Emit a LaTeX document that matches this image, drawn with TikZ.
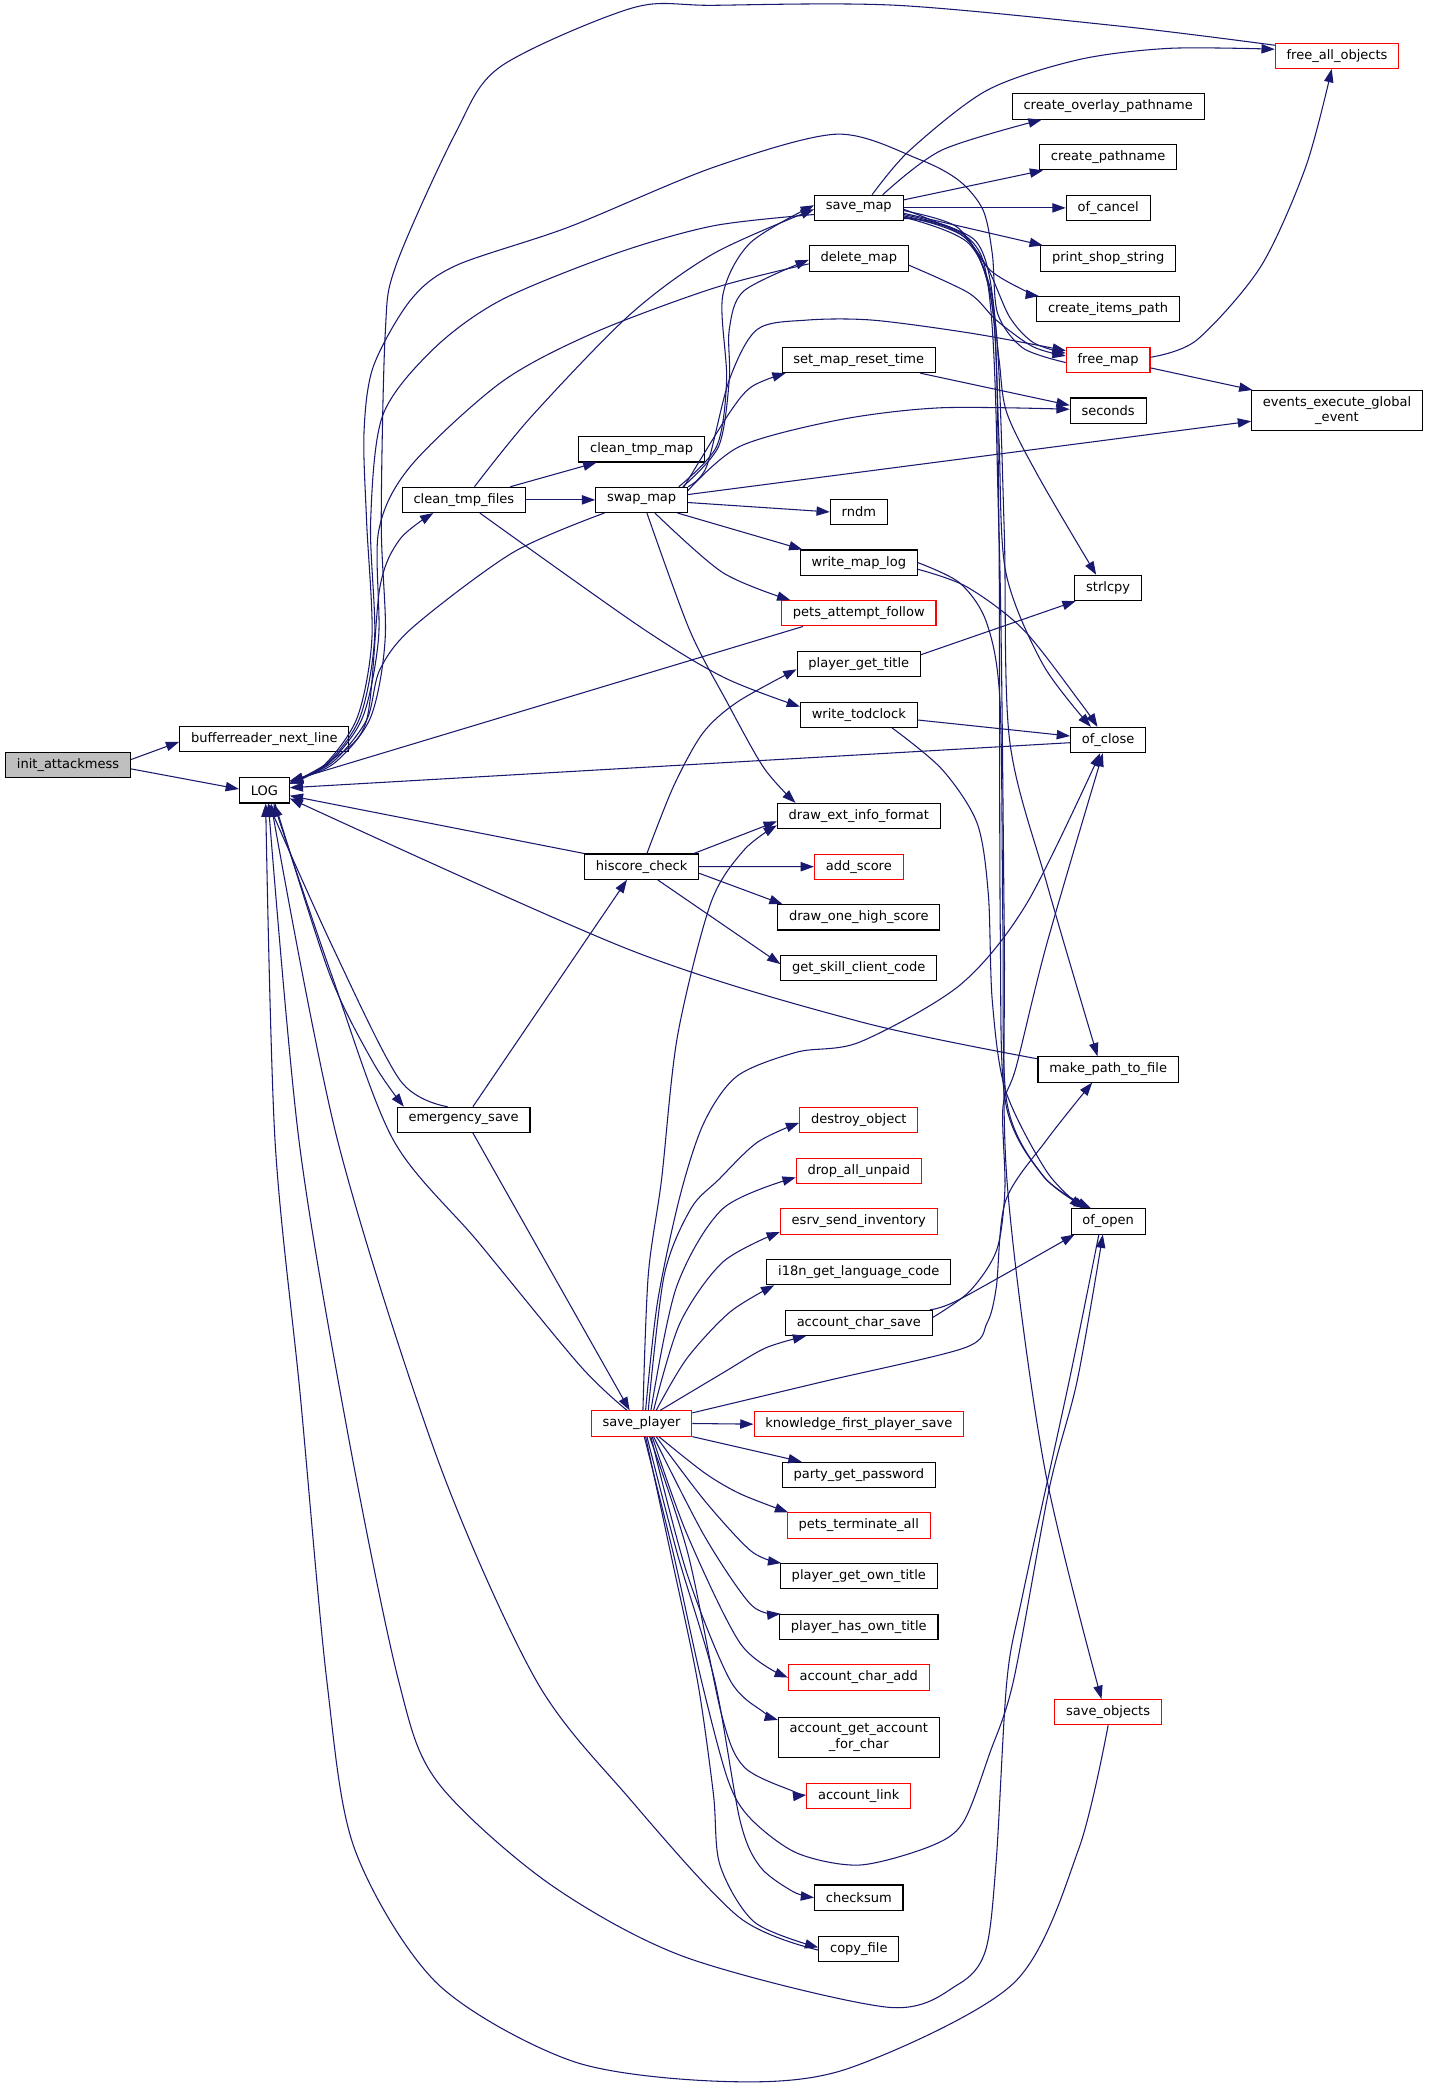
\documentclass[tikz,border=0pt]{standalone}
\usepackage{fontspec}
\setmainfont{DejaVu Sans}
\usepackage{tikz}
\usetikzlibrary{arrows.meta}
\definecolor{edgeblue}{RGB}{25,25,112}
\definecolor{boxred}{RGB}{255,0,0}
\definecolor{boxgray}{RGB}{191,191,191}

\begin{document}
\begin{tikzpicture}[x=1pt, y=-1pt,
	fn/.style={draw=black, line width=0.8pt, rectangle, inner xsep=8.5pt, inner ysep=4.5pt, minimum height=19pt, align=center, font=\fontsize{9.8}{11.5}\selectfont},
	fnred/.style={fn, draw=boxred},
	edge/.style={draw=edgeblue, line width=0.8pt, -{Triangle[length=10pt,width=7pt]}}]
	\path[use as bounding box, fill=white] (0,0) rectangle (1075,1572.6);
		\node[fn, fill=boxgray] (ia) at (51.2,575.8) {init\_attackmess};
		\node[fn] (brnl) at (199,556.5) {bufferreader\_next\_line};
		\node[fn] (log) at (199,595) {LOG};
		\node[fn] (ctf) at (349.2,376.3) {clean\_tmp\_files};
		\node[fn] (es) at (349,843) {emergency\_save};
		\node[fn] (ctm) at (483,338.3) {clean\_tmp\_map};
		\node[fn] (swap) at (483,376.3) {swap\_map};
		\node[fn] (hsc) at (483,652.4) {hiscore\_check};
		\node[fnred] (sp) at (483,1071.6) {save\_player};
		\node[fn] (smap) at (646.5,156.5) {save\_map};
		\node[fn] (dmap) at (646.5,194.65) {delete\_map};
		\node[fn] (smrt) at (646.5,270.95) {set\_map\_reset\_time};
		\node[fn] (rndm) at (646.5,385.4) {rndm};
		\node[fn] (wml) at (646.5,423.55) {write\_map\_log};
		\node[fnred] (paf) at (646.5,461.7) {pets\_attempt\_follow};
		\node[fn] (pgt) at (646.5,499.85) {player\_get\_title};
		\node[fn] (wtc) at (646.5,538) {write\_todclock};
		\node[fn] (deif) at (646.5,614.3) {draw\_ext\_info\_format};
		\node[fnred] (adds) at (646.5,652.45) {add\_score};
		\node[fn] (dohs) at (646.5,690.6) {draw\_one\_high\_score};
		\node[fn] (gscc) at (646.5,728.75) {get\_skill\_client\_code};
		\node[fnred] (dobj) at (646.5,843.2) {destroy\_object};
		\node[fnred] (dau) at (646.5,881.35) {drop\_all\_unpaid};
		\node[fnred] (esi) at (646.5,919.5) {esrv\_send\_inventory};
		\node[fn] (i18n) at (646.5,957.65) {i18n\_get\_language\_code};
		\node[fn] (acs) at (646.5,995.8) {account\_char\_save};
		\node[fnred] (kfps) at (646.5,1072.1) {knowledge\_first\_player\_save};
		\node[fn] (pgp) at (646.5,1110.25) {party\_get\_password};
		\node[fnred] (pta) at (646.5,1148.4) {pets\_terminate\_all};
		\node[fn] (pgot) at (646.5,1186.55) {player\_get\_own\_title};
		\node[fn] (phot) at (646.5,1224.7) {player\_has\_own\_title};
		\node[fnred] (aca) at (646.5,1262.85) {account\_char\_add};
		\node[fn] (agafc) at (646.5,1308) {account\_get\_account\\\_for\_char};
		\node[fnred] (alink) at (646.5,1352.2) {account\_link};
		\node[fn] (csum) at (646.5,1428.5) {checksum};
		\node[fn] (cpf) at (646.5,1467) {copy\_file};
		\node[fn] (cop) at (834.2,80.2) {create\_overlay\_pathname};
		\node[fn] (cpn) at (834.2,118.35) {create\_pathname};
		\node[fn] (ofc) at (834.2,156.5) {of\_cancel};
		\node[fn] (pss) at (834.2,194.65) {print\_shop\_string};
		\node[fn] (cip) at (834.2,232.8) {create\_items\_path};
		\node[fnred] (fmap) at (834.2,270.95) {free\_map};
		\node[fn] (secs) at (834.2,309.1) {seconds};
		\node[fn] (slc) at (834.2,442.6) {strlcpy};
		\node[fn] (oclose) at (834.2,557.1) {of\_close};
		\node[fn] (mptf) at (834.2,805.05) {make\_path\_to\_file};
		\node[fn] (oopen) at (834.2,919.5) {of\_open};
		\node[fnred] (sobj) at (834.2,1288.9) {save\_objects};
		\node[fnred] (fao) at (1006.5,42.05) {free\_all\_objects};
		\node[fn] (eege) at (1006.5,309.1) {events\_execute\_global\\\_event};

		\draw[edge] ([yshift=4pt]ia.east) -- ([yshift=-2pt]brnl.west);
		\draw[edge] ([yshift=-3pt]ia.east) -- ([yshift=1pt]log.west);
		\draw[edge] plot[smooth] coordinates {([yshift=5pt]log.east) (250,572) (276,542) (286,442) (301,406) ([xshift=-23pt]ctf.south)};
		\draw[edge] plot[smooth] coordinates {([xshift=8pt]log.south) (248,733) (281,800) ([xshift=-45pt]es.north)};
		\draw[edge] plot[smooth] coordinates {([xshift=-12pt]es.north) (301,813) (250,712) ([xshift=3pt]log.south)};
		\draw[edge] ([xshift=7pt]es.north) -- ([xshift=-11pt]hsc.south);
		\draw[edge] ([xshift=7pt]es.south) -- ([xshift=-9pt]sp.north);
		\draw[edge] ([xshift=35pt]ctf.north) -- ([xshift=-34pt]ctm.south);
		\draw[edge] (ctf.east) -- (swap.west);
		\draw[edge] plot[smooth] coordinates {([xshift=8pt]ctf.north) (400,313.6) (474,237) (537,191) ([yshift=-1pt]smap.west)};
		\draw[edge] plot[smooth] coordinates {([xshift=12pt]ctf.south) (481.8,471.8) (545,510) ([yshift=6pt]wtc.west)};

		\draw[edge] plot[smooth] coordinates {([xshift=28pt]swap.north) (539.5,336) (547,286) (544,223) (564.6,183) ([yshift=2pt]smap.west)};
		\draw[edge] plot[smooth] coordinates {([xshift=31pt]swap.north) (541,336) (549,286) (549,248) (560,219) ([yshift=-1pt]dmap.west)};
		\draw[edge] plot[smooth] coordinates {(swap.north east) (532,351) (549,286) (570,248) (607,241) (657,241) (732,251) ([yshift=7pt]fmap.west)};
		\draw[edge] plot[smooth] coordinates {([xshift=-3pt]swap.north east) (549,311) (566,291) ([xshift=3pt]smrt.south west)};
		\draw[edge] plot[smooth] coordinates {([yshift=7pt]swap.east) (557,336) (632,316) (708,307) ([yshift=1pt]secs.west)};
		\draw[edge] ([yshift=4pt]swap.east) -- ([yshift=-8pt]eege.west);
		\draw[edge] ([yshift=-2pt]swap.east) -- (rndm.west);
		\draw[edge] ([xshift=27pt]swap.south) -- ([xshift=2pt]wml.north west);
		\draw[edge] plot[smooth] coordinates {([xshift=10pt]swap.south) (544,431) ([xshift=7pt]paf.north west)};
		\draw[edge] plot[smooth] coordinates {([xshift=4pt]swap.south) (519,474) (547,528) (575,578) ([xshift=14pt]deif.north west)};
		\draw[edge] plot[smooth] coordinates {([xshift=-28pt]swap.south) (386,416) (311,472) (286,504) (276,542) (250,574) ([yshift=6pt]log.east)};

		\draw[edge] plot[smooth] coordinates {([yshift=-5pt]smap.west) (537,170) (463,191) (377,226) (326,263) (288,313) (279,393) (282,480) (271,540) (246,575) ([yshift=6pt]log.east)};
		\draw[edge] plot[smooth] coordinates {([yshift=-4pt]dmap.west) (537,217) (446,251) (377,288) (309,351) (285,400) (285,480) (273,540) (247,575) ([yshift=5pt]log.east)};
		\draw[edge] plot[smooth] coordinates {([yshift=8pt]fao.west) (846,20) (675,4) (537,4) (476,6) (377,50) (343,100) (298,200) (290,251) (287,393) (290,480) (279,540) (251,575) ([yshift=7pt]log.east)};
		\draw[edge] plot[smooth] coordinates {([yshift=-2pt]fmap.west) (770,262) (751,236) (747,191) (740,158) (722,136) (692,120) (630,101) (537,126) (428,171) (343,200) (309,226) (281,276) (274,326) (276,393) (280,480) (269,540) (244,576) ([yshift=5pt]log.east)};
		\draw[edge] ([xshift=-42pt]paf.south) -- ([yshift=7pt]log.east);

		\draw[edge] plot[smooth] coordinates {([yshift=-5pt]dmap.east) (729.5,220.7) (750,241) (777.6,261) ([yshift=3pt]fmap.west)};
		\draw[edge] plot[smooth] coordinates {([yshift=-1pt]smap.east) (722.7,176) (743,201) (760,238.6) (778,258) ([yshift=5pt]fmap.west)};
		\draw[edge] plot[smooth] coordinates {([xshift=10pt]smap.north) (685,113) (743,68) (811.6,45) (880,36.4) ([yshift=5pt]fao.west)};
		\draw[edge] plot[smooth] coordinates {([xshift=18pt]smap.north) (709,113) ([xshift=-50pt]cop.south)};
		\draw[edge] ([yshift=6pt]smap.east) -- ([xshift=3pt]cpn.south west);
		\draw[edge] (smap.east) -- (ofc.west);
		\draw[edge] ([yshift=-4pt]smap.east) -- ([xshift=2pt]pss.north west);
		\draw[edge] plot[smooth] coordinates {([yshift=-2pt]smap.east) (720,170.6) (745,203) (773,219.6) ([xshift=2pt]cip.north west)};
		\draw[edge] plot[smooth] coordinates {([yshift=-5pt]smap.east) (725,176) (745,215) (752,270) (758,311) (783,361) ([xshift=-9pt]slc.north)};
		\draw[edge] plot[smooth] coordinates {([yshift=-6pt]smap.east) (728,180) (747,230) (752,330) (757,430) (785,500) ([xshift=-13pt]oclose.north)};
		\draw[edge] plot[smooth] coordinates {([yshift=-7pt]smap.east) (735,182) (750,250) (756,400) (760,557) (788,665) ([xshift=-8pt]mptf.north)};
		\draw[edge] plot[smooth] coordinates {([yshift=-7pt]smap.east) (730,184) (748,240) (752,400) (753,700) (757,830) (785,885) ([xshift=-16pt]oopen.north)};
		\draw[edge] plot[smooth] coordinates {([yshift=-8pt]smap.east) (740,196) (752,400) (756,700) (758,888) (786,1103) ([xshift=-5pt]sobj.north)};
		\draw[edge] plot[smooth] coordinates {([yshift=2pt]fmap.east) (900.9,256) (949,200.8) (983,125.5) ([xshift=-4pt]fao.south)};
		\draw[edge] ([yshift=-6pt]fmap.east) -- ([xshift=1pt]eege.north west);
		\draw[edge] ([xshift=46pt]smrt.south) -- ([yshift=4pt]secs.west);

		\draw[edge] plot[smooth] coordinates {([yshift=-5pt]wml.east) (727.7,441.7) (770.4,474) (813,528.5) ([xshift=-8pt]oclose.north)};
		\draw[edge] plot[smooth] coordinates {(wml.east) (722.7,439) (742.8,469) (752.8,528.5) (755,700) (758,830) (786,886) ([xshift=-13pt]oopen.north)};
		\draw[edge] ([yshift=-4pt]wtc.east) -- ([yshift=3pt]oclose.west);
		\draw[edge] plot[smooth] coordinates {([xshift=25pt]wtc.south) (709,579) (735.5,619.5) (744,673) (747,753.6) (757,821) (788,882) ([xshift=-19pt]oopen.north)};
		\draw[edge] ([yshift=7pt]pgt.east) -- ([xshift=1pt]slc.south west);

		\draw[edge] plot[smooth] coordinates {([xshift=4pt]hsc.north) (507,592) (529,552) (555,528.5) ([yshift=-4pt]pgt.west)};
		\draw[edge] ([xshift=-4pt]hsc.north east) -- ([yshift=-4pt]deif.west);
		\draw[edge] (hsc.east) -- (adds.west);
		\draw[edge] ([yshift=-5pt]hsc.east) -- ([xshift=4pt]dohs.north west);
		\draw[edge] ([xshift=12pt]hsc.south) -- ([yshift=3pt]gscc.west);
		\draw[edge] (hsc.north west) -- ([yshift=-4pt]log.east);
		\draw[edge] plot[smooth] coordinates {([yshift=8pt]mptf.west) (647,769) (474,715) ([yshift=-6pt]log.east)};
		\draw[edge] ([yshift=-2pt]oclose.west) -- ([yshift=2pt]log.east);

		\draw[edge] plot[smooth] coordinates {(sobj.south) (812,1392) (763,1493) (639,1557) (548,1567) (432,1552) (329,1493) (267,1392) (246,1265) (226,1050) (207,858) ([xshift=1pt]log.south)};
		\draw[edge] plot[smooth] coordinates {([xshift=-7pt]oopen.south) (805,1039) (770,1200) (758,1265) (750,1400) (742,1468) (721,1494) (668,1511) (515,1473) (412,1417) (329,1341) (300,1265) (262,1080) (225,858) ([xshift=3pt]log.south)};
		\draw[edge] plot[smooth] coordinates {([xshift=2pt]sp.south) (507,1170) (528,1265) (548,1340) (565,1369) (600,1395) (647,1404) (700,1390) (725,1372) (745,1320) (763,1265) (790,1120) (811,1039) ([xshift=-4pt]oopen.south)};
		\draw[edge] plot[smooth] coordinates {([xshift=3pt]sp.south) (505,1170) (525,1265) (537,1350) (542,1404) (568,1447) ([yshift=1pt]cpf.west)};
		\draw[edge] plot[smooth] coordinates {([yshift=-1pt]cpf.west) (556,1443) (473.5,1353.5) (403.6,1265) (330,1100) (254,858) ([xshift=5pt]log.south)};
		\draw[edge] plot[smooth] coordinates {([xshift=4pt]sp.south) (510,1170) (538,1265) (557,1370) (572,1405) (597,1424) (csum.west)};
		\draw[edge] plot[smooth] coordinates {([xshift=6pt]sp.south) (518,1170) (543,1290) (560,1330) (597.5,1348.6) ([yshift=1pt]alink.west)};
		\draw[edge] plot[smooth] coordinates {([xshift=7pt]sp.south) (517,1184) (549.5,1264.7) (575,1289) ([yshift=-2pt]agafc.north west)};
		\draw[edge] plot[smooth] coordinates {([xshift=8pt]sp.south) (517,1154.5) (557.6,1237.6) (aca.west)};
		\draw[edge] plot[smooth] coordinates {([xshift=9pt]sp.south) (530.7,1157) (565.6,1208.3) ([xshift=1pt]phot.north west)};
		\draw[edge] plot[smooth] coordinates {([xshift=11pt]sp.south) (530.7,1130) (565.6,1167.8) ([xshift=1pt]pgot.north west)};
		\draw[edge] plot[smooth] coordinates {([xshift=13pt]sp.south) (530.7,1109) (557.6,1124.7) ([xshift=1pt]pta.north west)};
		\draw[edge] (sp.south east) -- ([xshift=15pt]pgp.north west);
		\draw[edge] (sp.east) -- (kfps.west);
		\draw[edge] plot[smooth] coordinates {([xshift=14pt]sp.north) (544.2,1033.5) (576.4,1014.7) ([xshift=16pt]acs.south west)};
		\draw[edge] plot[smooth] coordinates {([xshift=11pt]sp.north) (517,1022.7) (549.5,987.7) ([xshift=6pt]i18n.south west)};
		\draw[edge] plot[smooth] coordinates {([xshift=9pt]sp.north) (511.9,996) (544.2,950) ([yshift=2pt]esi.south west)};
		\draw[edge] plot[smooth] coordinates {([xshift=7pt]sp.north) (509.2,969) (544.2,909.8) ([yshift=-5pt]dau.west)};
		\draw[edge] plot[smooth] coordinates {([xshift=5pt]sp.north) (500,960) (520,910) (541,888) (570,860) ([yshift=-2pt]dobj.west)};
		\draw[edge] plot[smooth] coordinates {([xshift=1pt]sp.north) (488,960) (498,888) (510,780) (535,680) (560,640) ([yshift=-7pt]deif.west)};
		\draw[edge] plot[smooth] coordinates {([xshift=3pt]sp.north) (495,980) (512,900) (530,845) (555,810) (600,792) (647.4,784.4) (722.7,741.5) (773,680) ([xshift=-6pt]oclose.south)};
		\draw[edge] plot[smooth] coordinates {([xshift=-11pt]sp.north) (436.6,1028) (360,935) (296,858) (250,735) ([xshift=7pt]log.south)};
		\draw[edge] plot[smooth] coordinates {([yshift=8pt]sp.east) (620,1040) (725.7,1014.8) (743,996) (750,969) (757,904) (788,858) ([xshift=-12pt]mptf.south)};
		\draw[edge] plot[smooth] coordinates {([yshift=4pt]acs.east) (730,972) (750.3,941) (756.5,895) (755,833.6) (765,803) (788,710.6) ([xshift=-4pt]oclose.south)};
		\draw[edge] plot[smooth] coordinates {([xshift=-2pt]acs.north east) (722.7,978) ([xshift=3pt]oopen.south west)};
\end{tikzpicture}
\end{document}
